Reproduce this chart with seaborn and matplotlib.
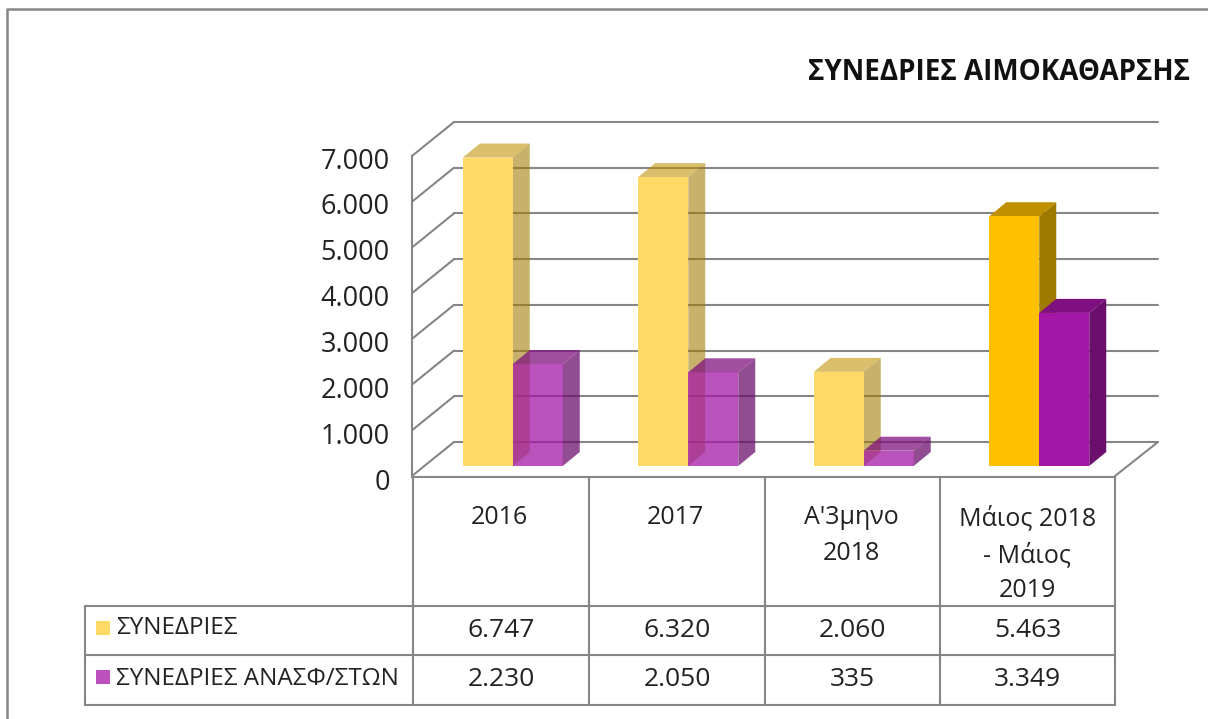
#!/usr/bin/env python3
import pandas as pd
import matplotlib
matplotlib.use('Agg')
import matplotlib.pyplot as plt
from matplotlib.transforms import ScaledTranslation
import seaborn as sns

# Data
periods = ['2016', '2017', "Α'3μηνο\n2018", 'Μάιος 2018\n- Μάιος\n2019']
series_names = ['ΣΥΝΕΔΡΙΕΣ', 'ΣΥΝΕΔΡΙΕΣ ΑΝΑΣΦ/ΣΤΩΝ']
sessions = [6747, 6320, 2060, 5463]
sessions_uninsured = [2230, 2050, 335, 3349]
y_ticks = [0, 1000, 2000, 3000, 4000, 5000, 6000, 7000]
title = 'ΣΥΝΕΔΡΙΕΣ ΑΙΜΟΚΑΘΑΡΣΗΣ'

W, H = 1208, 719
GRID = '#868686'
FONT = 'Open Sans'


def px_rect(left, right, top, bottom):
    return [left / W, 1 - bottom / H, (right - left) / W, (bottom - top) / H]


def fmt(v):
    return f'{v:,}'.replace(',', '.')


sns.set_theme(style='white')
plt.rcParams['font.family'] = [FONT, 'DejaVu Sans']

df = pd.DataFrame({
    'period': periods * 2,
    'series': [series_names[0]] * 4 + [series_names[1]] * 4,
    'value': sessions + sessions_uninsured,
})

fig = plt.figure(figsize=(W / 100, H / 100), dpi=100, facecolor='white')

# Pixel overlay for frame and data table
page = fig.add_axes([0, 0, 1, 1], zorder=0)
page.set_xlim(0, W)
page.set_ylim(H, 0)
page.axis('off')
page.plot([W, 7, 7], [9, 9, H], color=GRID, lw=1.8)

# Front of the chart: category axis and value labels
wall = fig.add_axes(px_rect(412, 1115, 156, 477), zorder=1)
wall.patch.set_alpha(0)
wall.set_xlim(-0.5, 3.5)
wall.set_ylim(0, 7000)
wall.set_yticks(y_ticks)
wall.set_yticklabels([fmt(v) for v in y_ticks], fontsize=19.5, color='#222222')
wall.set_xticks(range(4))
wall.set_xticklabels(periods, fontsize=18, color='#222222', linespacing=1.55)
wall.tick_params(axis='y', length=0, pad=16)
wall.tick_params(axis='x', length=0, pad=20.5)
for label in wall.get_yticklabels():
    label.set_transform(label.get_transform()
                        + ScaledTranslation(0, -1.5 / 72, fig.dpi_scale_trans))
for side in ['top', 'right']:
    wall.spines[side].set_visible(False)
for side in ['left', 'bottom']:
    wall.spines[side].set_color(GRID)
    wall.spines[side].set_linewidth(1.5)

# Bars sit on the plane just behind the front edge
ax = fig.add_axes(px_rect(425, 1127, 146, 466), zorder=2)
ax.patch.set_alpha(0)
sns.barplot(data=df, x='period', y='value', hue='series', order=periods,
            hue_order=series_names, palette=['#FFD966', '#A417A6'],
            width=100 / 175.5, gap=0, saturation=1, legend=False, ax=ax)
ax.set_xlim(-0.5, 3.5)
ax.set_ylim(0, 7000)
ax.set_xlabel('')
ax.set_ylabel('')
ax.set_xticks([])
ax.set_yticks([])
sns.despine(ax=ax, left=True, bottom=True)

# depth of the 3D box, pixels converted to data units
dx = 17 * 4 / 702
dy = 14 * 7000 / 320
back_x = dx * 42 / 17

# walls and floor
wall_x0 = -0.5 - 13 * 4 / 702
for v in y_ticks:
    ax.plot([wall_x0 + back_x, 3.5 + 31 * 4 / 702], [v + 24 * 7000 / 320] * 2,
            color=GRID, lw=1.5, zorder=1, clip_on=False)
    ax.plot([wall_x0, wall_x0 + back_x],
            [v - 10 * 7000 / 320, v + 24 * 7000 / 320],
            color=GRID, lw=1.5, zorder=1, clip_on=False)
ax.plot([3.5 - 12 * 4 / 702, 3.5 + 31 * 4 / 702],
        [-10 * 7000 / 320, 24 * 7000 / 320], color=GRID, lw=1.5, zorder=1,
        clip_on=False)

# face colours: (front, side, top, alpha)
looks = [
    {'light': ('#FFD966', '#A07A00', '#C09000', 1.0),
     'strong': ('#FFC000', '#A07A00', '#C09000', 1.0)},
    {'light': ('#A417A6', '#6B0E6C', '#7F107F', 0.74),
     'strong': ('#A417A6', '#6B0E6C', '#7F107F', 1.0)},
]
for i, container in enumerate(ax.containers):
    base = 2 + 2 * i
    for j, bar in enumerate(container):
        x0 = bar.get_x()
        x1 = x0 + bar.get_width()
        h = bar.get_height()
        front, side, top, alpha = looks[i]['strong' if j == 3 else 'light']
        side_alpha = 1.0 if j == 3 else (0.58 if i == 0 else 0.74)
        bar.set_facecolor(front)
        bar.set_alpha(alpha)
        bar.set_edgecolor('none')
        bar.set_zorder(base + 1)
        ax.fill([x1, x1 + dx, x1 + dx, x1], [0, dy, h + dy, h], color=side,
                alpha=side_alpha, lw=0, zorder=base, clip_on=False)
        ax.fill([x0, x0 + dx, x1 + dx, x1], [h, h + dy, h + dy, h], color=top,
                alpha=side_alpha, lw=0, zorder=base, clip_on=False)

# Data table under the chart
rows_y = [606, 655, 705]
cols_x = [413, 589, 765, 940, 1115]
for ry in rows_y:
    page.plot([85, 1115], [ry, ry], color=GRID, lw=1.5)
page.plot([85, 85], [rows_y[0], rows_y[2]], color=GRID, lw=1.5)
for c in cols_x:
    page.plot([c, c], [477, rows_y[2]], color=GRID, lw=1.5)

rows = [sessions, sessions_uninsured]
swatches = ['#FFD966', '#BC51BE']
label_shift = [-2, -1]
for r, name in enumerate(series_names):
    cy = (rows_y[r] + rows_y[r + 1]) / 2
    page.add_patch(plt.Rectangle((96, cy - 10), 14, 14, color=swatches[r], lw=0))
    page.text(116, cy + label_shift[r], name, fontsize=17.5, color='#222222',
              va='center')
    for c in range(4):
        page.text((cols_x[c] + cols_x[c + 1]) / 2, cy, fmt(rows[r][c]),
                  fontsize=19, color='#222222', ha='center', va='center')

page.text(1190, 72, title, fontsize=20, fontweight='bold', color='#111111',
          ha='right', va='center')

plt.savefig('out.png', dpi=100)
